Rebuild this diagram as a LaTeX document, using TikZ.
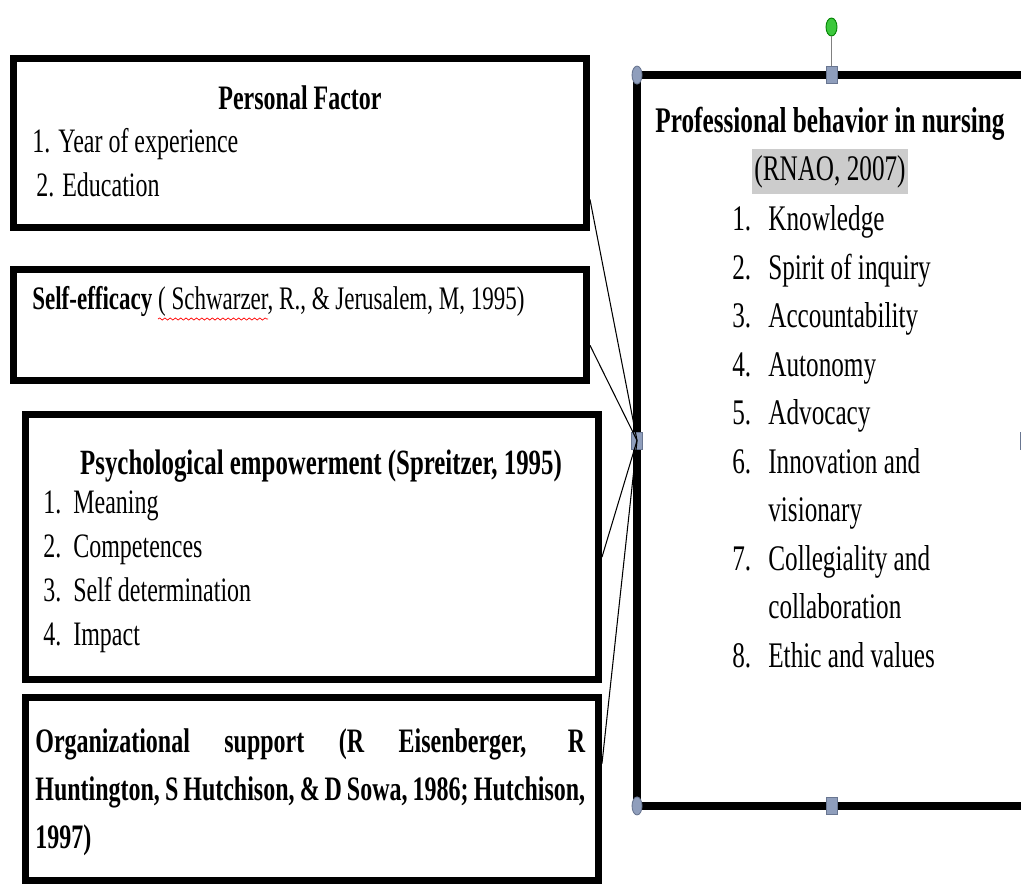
\documentclass[tikz,border=0pt]{standalone}
\usepackage{fontspec}
\setmainfont{Liberation Serif}[FakeStretch=0.7]
\usepackage{tikz}
\usetikzlibrary{shapes}
\usetikzlibrary{decorations.pathmorphing}
\definecolor{poigneefond}{RGB}{143,158,188}
\definecolor{poigneebord}{RGB}{105,118,145}
\definecolor{poigneevert}{RGB}{60,200,60}
\newcommand{\lignum}[2]{\makebox[0.6cm][l]{#1}#2}
\newcommand{\lignumb}[2]{\makebox[0.72cm][l]{#1}#2}

\begin{document}
\begin{tikzpicture}[x=0.02cm,y=-0.02cm]
\tikzstyle{lien}=[black,line width=0.6pt]
\tikzset{cadre/.style={draw,line width=4pt,rectangle,inner sep=0pt,minimum width=11.46cm,minimum height=#1},
texte/.style={inner sep=0pt,align=left,font=\fontsize{19.5}{24.8}\selectfont},
grand/.style={inner sep=0pt,align=left,font=\fontsize{20.5}{27.6}\selectfont},
poignee/.style={draw=poigneebord,fill=poigneefond,line width=0.5pt,inner sep=0pt,minimum width=0.22cm,minimum height=0.34cm},
rond/.style={ellipse,draw=poigneebord,fill=poigneefond,line width=0.5pt,inner sep=0pt,minimum width=0.2cm,minimum height=0.36cm}}
\useasboundingbox (0,0) rectangle (1021,886);
\node [cadre=3.38cm] (pf) at (300,143) {};
\node [cadre=2.22cm] (se) at (300,325) {};
\node [cadre=5.3cm] (pe) at (312,547) {};
\node [cadre=3.66cm] (os) at (312,789) {};
\node [draw,line width=4.5pt,outer sep=0pt,minimum width=7.78cm,minimum height=14.62cm] (pb) at (831.5,440.5) {};
\node [texte,anchor=base] (pft) at (300,109) {\textbf{Personal Factor}};
\node [texte,anchor=base west] (pfl) at (32,196) {1. Year of experience\\ \hspace{0.08cm}2. Education};
\node [texte,anchor=base west,font=\fontsize{18.7}{24}\selectfont] (set) at (32,309) {\textbf{Self-efficacy} ( Schwarzer, R., \& Jerusalem, M, 1995)};
\draw [red,line width=0.4pt,decorate,decoration={snake,amplitude=0.6pt,segment length=3pt}] (158,319) -- (268,319);
\node [texte,anchor=base,font=\fontsize{20.2}{25}\selectfont] (pet) at (321,474) {\textbf{Psychological empowerment (Spreitzer, 1995)}};
\node [texte,anchor=base west,font=\fontsize{19.5}{25}\selectfont] (pel) at (43,645) {\lignum{1.}{Meaning}\\ \lignum{2.}{Competences}\\ \lignum{3.}{Self determination}\\ \lignum{4.}{Impact}};
\node [texte,anchor=base west,text width=11cm,align=justify,font=\fontsize{19.5}{27.6}\selectfont\bfseries] (ost) at (35,752) {Organizational support (R Eisenberger, R\linebreak Huntington, S Hutchison, \& D Sowa, 1986; Hutchison,\linebreak 1997)};
\node [grand,anchor=base] (pbt) at (830,132) {\textbf{Professional behavior in nursing}};
\node [grand,anchor=base,fill=gray!40,inner xsep=0.05cm,inner ysep=0.12cm] (rnao) at (830,180) {(RNAO, 2007)};
\node [grand,anchor=base west] (pbl) at (732,667) {\lignumb{1.}{Knowledge}\\ \lignumb{2.}{Spirit of inquiry}\\ \lignumb{3.}{Accountability}\\ \lignumb{4.}{Autonomy}\\ \lignumb{5.}{Advocacy}\\ \lignumb{6.}{Innovation and}\\ \lignumb{}{visionary}\\ \lignumb{7.}{Collegiality and}\\ \lignumb{}{collaboration}\\ \lignumb{8.}{Ethic and values}};
\node [rond] (cnw) at (pb.north west) {};
\node [rond] (csw) at (pb.south west) {};
\node [poignee] (hn) at (pb.north) {};
\node [poignee] (hs) at (pb.south) {};
\node [poignee] (he) at (pb.east) {};
\node [poignee] (hw) at (pb.west) {};
\node [ellipse,draw=green!50!black,fill=poigneevert,line width=0.5pt,inner sep=0pt,minimum width=0.22cm,minimum height=0.36cm] (rot) at (831.5,27) {};
\draw [gray,line width=0.8pt] (rot) -- (hn);
\draw [lien] (pf.-11) -- (hw.center);
\draw [lien] (se.-4.5) -- (hw.center);
\draw [lien] (pe.-2) -- (hw.center);
\draw [lien] (os.5) -- (hw.center);
\end{tikzpicture}
\end{document}
